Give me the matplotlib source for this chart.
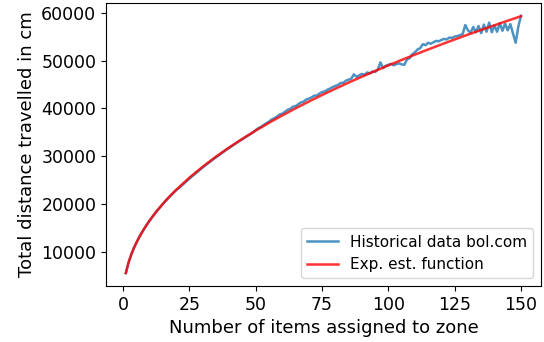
import matplotlib
matplotlib.use("Agg")
import matplotlib.pyplot as plt

# historical data, one value per number of items (1..150)
items = list(range(1, 151))
hist_dist = [
    5650, 7800, 9440, 10810, 12000, 13070, 14050, 14960, 15810, 16610,
    17370, 18090, 18780, 19440, 20080, 20700, 21290, 21870, 22420, 22960,
    23370, 23880, 24380, 24870, 25370, 25850, 26320, 26780, 27230, 27680,
    28120, 28550, 28980, 29400, 29800, 30220, 30620, 31010, 31410, 31760,
    32150, 32520, 32890, 33260, 33580, 33960, 34310, 34660, 35000, 35500,
    35900, 36150, 36560, 36900, 37250, 37700, 37950, 38300, 38750, 38900,
    39300, 39700, 39900, 40350, 40500, 40850, 41250, 41400, 41850, 42050,
    42300, 42650, 42700, 43100, 43400, 43550, 43900, 44150, 44450, 44700,
    44900, 45300, 45350, 45800, 46000, 46200, 47100, 46600, 46900, 47200,
    47000, 47500, 47300, 47700, 47600, 48100, 49600, 48400, 48900, 49100,
    49300, 49000, 49250, 49400, 49200, 49100, 50200, 50500, 51300, 51700,
    52300, 52600, 53400, 53200, 53700, 53500, 53800, 54100, 54000, 54300,
    54500, 54400, 54800, 54700, 55000, 55100, 55300, 55500, 57400, 56300,
    55800, 57000, 55900, 57200, 55700, 57500, 56000, 57900, 55900, 57300,
    56000, 57800, 56200, 57700, 56300, 57600, 55600, 53700, 57100, 59300,
]

# estimated function, read at selected points
est_x = list(range(1, 21)) + list(range(25, 151, 5))
est_dist = [
    5650, 7821, 9458, 10824, 12019, 13092, 14073, 14982, 15834, 16636,
    17396, 18121, 18813, 19479, 20120, 20737, 21337, 21916, 22478, 23025,
    25570, 27850, 29937, 31874, 33683, 35388, 37006, 38548, 40024, 41437,
    42802, 44118, 45389, 46622, 47822, 48984, 50117, 51222, 52304, 53355,
    54390, 55399, 56389, 57354, 58308, 59246,
]

fig = plt.figure(figsize=(5.44, 3.42), dpi=100)
ax = fig.add_axes([0.195, 0.164, 0.799, 0.827])

ax.plot(items, hist_dist, color="tab:blue", alpha=0.8, lw=1.8, label="Historical data bol.com")
ax.plot(est_x, est_dist, color="red", alpha=0.8, lw=1.8, label="Exp. est. function")

ax.set_xticks([0, 25, 50, 75, 100, 125, 150])
ax.tick_params(labelsize=12.5)
ax.set_xlabel("Number of items assigned to zone", fontsize=13)
ax.set_ylabel("Total distance travelled in cm", fontsize=13)
ax.legend(loc="lower right", fontsize=11)

fig.savefig("out.png", dpi=100)
